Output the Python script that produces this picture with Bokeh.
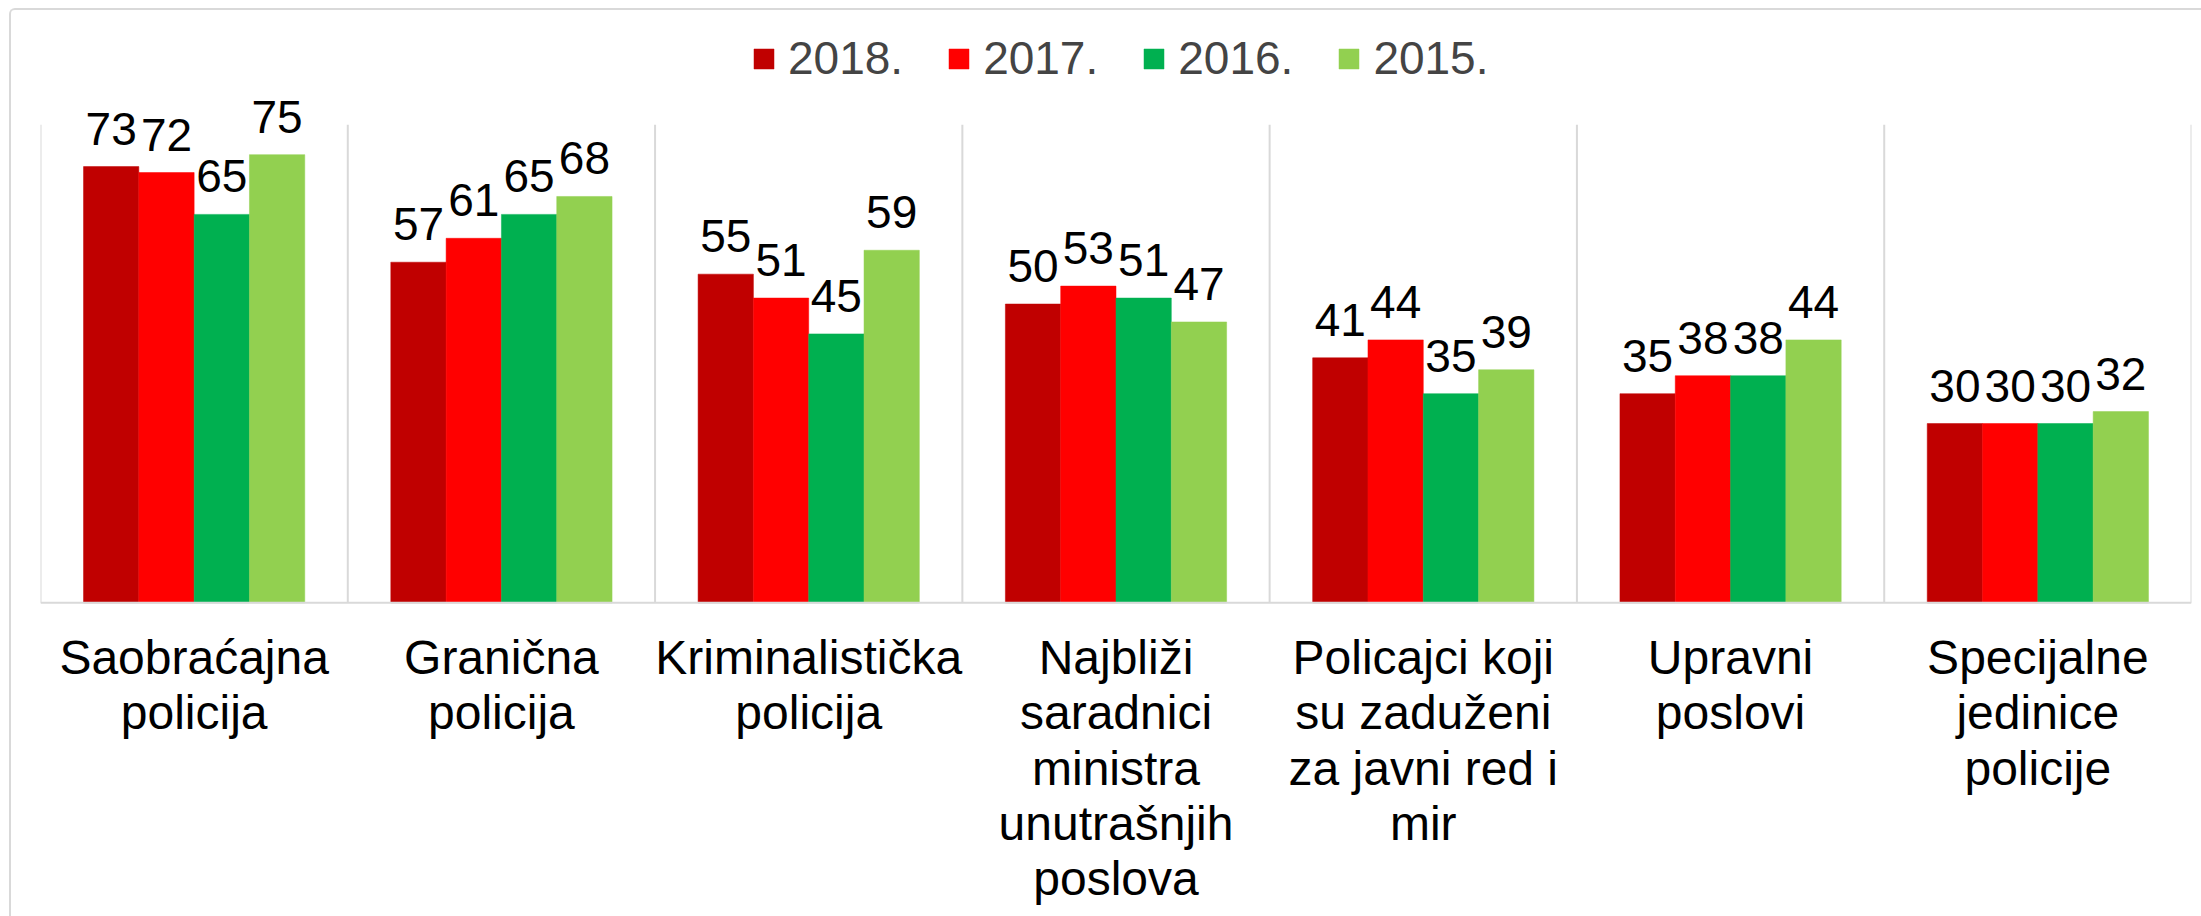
from bokeh.plotting import figure
from bokeh.models import (ColumnDataSource, Range1d, LabelSet, Legend,
                          LegendItem, InlineStyleSheet, Span)
from bokeh.core.properties import value
from bokeh.embed import file_html
from bokeh.resources import INLINE

categories = ["Saobraćajna\npolicija", "Granična\npolicija", "Kriminalistička\npolicija",
              "Najbliži\nsaradnici\nministra\nunutrašnjih\nposlova",
              "Policajci koji\nsu zaduženi\nza javni red i\nmir",
              "Upravni\nposlovi", "Specijalne\njedinice\npolicije"]
years = ["2018.", "2017.", "2016.", "2015."]
v2018 = [73, 57, 55, 50, 41, 35, 30]
v2017 = [72, 61, 51, 53, 44, 38, 30]
v2016 = [65, 65, 45, 51, 35, 38, 30]
v2015 = [75, 68, 59, 47, 39, 44, 32]
series = [v2018, v2017, v2016, v2015]
colors = ["#C00000", "#FF0000", "#00B050", "#92D050"]

YMAX = 80          # value axis maximum (top of the category dividers)
YTOP = 99.12       # headroom above the plot area for legend and labels
YBOT = -52.83      # room below the baseline for the category labels

FONT = "Liberation Sans"
n = len(categories)
centers = [i + 0.5 for i in range(n)]
bounds = list(range(n + 1))
bar_w = 0.18
offsets = [-1.5 * bar_w, -0.5 * bar_w, 0.5 * bar_w, 1.5 * bar_w]

border_css = InlineStyleSheet(css=(
    ":host { margin: 8px 0 0 9px; border-top: 2px solid #d9d9d9; "
    "border-left: 2px solid #d9d9d9; border-top-left-radius: 6px; }"))

p = figure(width=2192, height=908, output_backend="svg", toolbar_location=None,
           x_range=Range1d(0, n), y_range=Range1d(YBOT, YTOP),
           x_axis_location=None, y_axis_location=None,
           min_border_left=29, min_border_right=12,
           min_border_top=0, min_border_bottom=0, stylesheets=[border_css])
p.outline_line_color = None
p.background_fill_color = "white"
p.border_fill_color = "white"
p.grid.grid_line_color = None

# category dividers
p.segment(x0=bounds, y0=[0] * len(bounds), x1=bounds, y1=[YMAX] * len(bounds),
          line_color="#d9d9d9", line_width=2)
# baseline
p.add_layout(Span(location=0, dimension="width", line_color="#d9d9d9", line_width=2))

# category labels below the baseline
csrc = ColumnDataSource(dict(x=centers, y=[0] * n, t=categories))
p.text(x="x", y="y", text="t", source=csrc, text_align="center", text_baseline="top",
       y_offset=28, text_font=value(FONT), text_font_size=value("48px"),
       text_line_height=1.045, text_color="black")

items = []
for yr, vals, col, off in zip(years, series, colors, offsets):
    src = ColumnDataSource(dict(x=[c + off for c in centers], top=vals,
                                lab=[str(v) for v in vals]))
    r = p.vbar(x="x", top="top", width=bar_w, bottom=0, source=src,
               fill_color=col, line_color=col, line_width=0.5)
    items.append(LegendItem(label=yr, renderers=[r]))
    p.add_layout(LabelSet(x="x", y="top", text="lab", source=src, text_align="center",
                          text_baseline="alphabetic", y_offset=22,
                          text_font=value(FONT), text_font_size=value("46px"),
                          text_color="black"))

legend = Legend(items=items, orientation="horizontal", location=(711, 833),
                label_text_font=FONT, label_text_font_size="46px",
                glyph_width=25, glyph_height=25, label_standoff=12, spacing=43,
                padding=0, margin=0, border_line_color=None, background_fill_alpha=0)
p.add_layout(legend)

open("out.html", "w").write(file_html(p, INLINE))
